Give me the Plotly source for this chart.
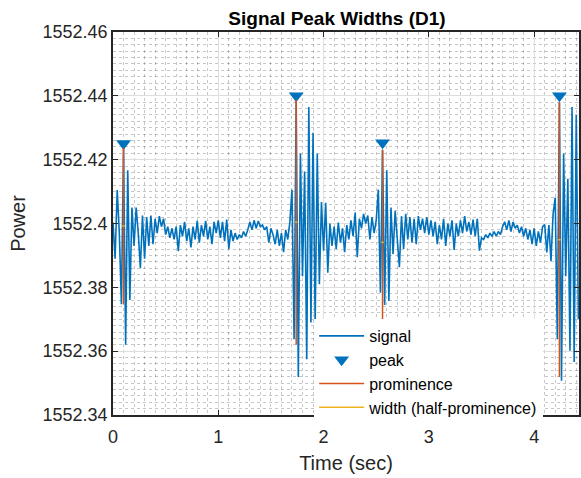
import plotly.graph_objects as go

# ---- data ----
sample_interval = 0.02  # seconds between samples
signal = [
    1552.4003, 1552.3890, 1552.4105, 1552.3970, 1552.3747, 1552.4237, 1552.3620, 1552.4167, 1552.3760, 1552.4050,
    1552.3930, 1552.4050, 1552.3970, 1552.3860, 1552.4025, 1552.3890, 1552.4020, 1552.3930, 1552.4025, 1552.3935,
    1552.4015, 1552.3970, 1552.4023, 1552.3990, 1552.4015, 1552.3965, 1552.3990, 1552.3955, 1552.3985, 1552.3950,
    1552.3990, 1552.3913, 1552.3995, 1552.3960, 1552.4005, 1552.3945, 1552.3985, 1552.3925, 1552.3990, 1552.3950,
    1552.4008, 1552.3940, 1552.3995, 1552.3960, 1552.4008, 1552.3950, 1552.3990, 1552.3935, 1552.4005, 1552.3970,
    1552.4010, 1552.3955, 1552.4005, 1552.3945, 1552.4012, 1552.3920, 1552.3980, 1552.3945, 1552.3970, 1552.3950,
    1552.3965, 1552.3955, 1552.3975, 1552.3960, 1552.3980, 1552.4005, 1552.3980, 1552.4010, 1552.3985, 1552.4008,
    1552.3990, 1552.3995, 1552.3980, 1552.3990, 1552.3940, 1552.3985, 1552.3965, 1552.3935, 1552.3980, 1552.3930,
    1552.3970, 1552.3910, 1552.3980, 1552.3950, 1552.4005, 1552.4106, 1552.3637, 1552.4388, 1552.3519, 1552.4219,
    1552.3835, 1552.4163, 1552.3575, 1552.4365, 1552.3690, 1552.4284, 1552.3690, 1552.4219, 1552.3810, 1552.4067,
    1552.3915, 1552.4065, 1552.3846, 1552.4000, 1552.3930, 1552.3990, 1552.3920, 1552.4003, 1552.3940, 1552.3985,
    1552.3910, 1552.3995, 1552.3950, 1552.4010, 1552.3960, 1552.4034, 1552.3894, 1552.4015, 1552.3985, 1552.4030,
    1552.4000, 1552.4025, 1552.3950, 1552.4020, 1552.3970, 1552.4010, 1552.4106, 1552.3783, 1552.4231, 1552.3745,
    1552.4167, 1552.3757, 1552.4050, 1552.3904, 1552.4040, 1552.3946, 1552.3863, 1552.4023, 1552.3920, 1552.4030,
    1552.3950, 1552.4020, 1552.3940, 1552.4015, 1552.3935, 1552.4023, 1552.3980, 1552.4015, 1552.3970, 1552.4020,
    1552.3965, 1552.4010, 1552.3960, 1552.4005, 1552.3935, 1552.3995, 1552.3950, 1552.4015, 1552.3930, 1552.4000,
    1552.3960, 1552.4010, 1552.3917, 1552.4000, 1552.3960, 1552.4010, 1552.3970, 1552.4023, 1552.3975, 1552.4005,
    1552.3965, 1552.4012, 1552.3960, 1552.4015, 1552.3915, 1552.3955, 1552.3950, 1552.3965, 1552.3955, 1552.3970,
    1552.3960, 1552.3975, 1552.3960, 1552.3975, 1552.3965, 1552.3990, 1552.4005, 1552.3980, 1552.4010, 1552.3975,
    1552.4005, 1552.3985, 1552.3995, 1552.3970, 1552.3990, 1552.3960, 1552.3985, 1552.3950, 1552.3980, 1552.3935,
    1552.3985, 1552.3930, 1552.3975, 1552.3940, 1552.3990, 1552.3997, 1552.3909, 1552.3995, 1552.3882, 1552.4030,
    1552.4081, 1552.3637, 1552.4379, 1552.3507, 1552.4219, 1552.3835, 1552.4140, 1552.3601, 1552.4365, 1552.3566,
    1552.4340, 1552.3700,
]
time = [i * sample_interval for i in range(len(signal))]

peak_time = [0.10, 1.74, 2.56, 4.24]
peak_value = [1552.4237, 1552.4388, 1552.4231, 1552.4379]
peak_marker_y = [1552.4251, 1552.4400, 1552.4253, 1552.4400]
prominence_base = [1552.3747, 1552.3620, 1552.3650, 1552.3519]
width_height = [1552.3992, 1552.4004, 1552.3941, 1552.3949]
width_left = [0.088, 1.728, 2.548, 4.228]
width_right = [0.112, 1.752, 2.572, 4.252]

y_ticks = [1552.34, 1552.36, 1552.38, 1552.40, 1552.42, 1552.44, 1552.46]
y_tick_labels = ["1552.34", "1552.36", "1552.38", "1552.4", "1552.42", "1552.44", "1552.46"]
x_ticks = [0, 1, 2, 3, 4]
x_tick_labels = ["0", "1", "2", "3", "4"]

BLUE = "#0072BD"
ORANGE = "#D95319"
YELLOW = "#EDB120"
AX = "#262626"
FONT = "Liberation Sans, Arial, sans-serif"

prom_x, prom_y = [], []
for t, top, base in zip(peak_time, peak_value, prominence_base):
    prom_x += [t, t, None]
    prom_y += [top, base, None]

wid_x, wid_y = [], []
for l, r, h in zip(width_left, width_right, width_height):
    wid_x += [l, r, None]
    wid_y += [h, h, None]

PLOT_W = 581 - 113

fig = go.Figure()
fig.add_trace(go.Scatter(x=time, y=signal, mode="lines", name="signal",
                         line=dict(color=BLUE, width=1.6)))
fig.add_trace(go.Scatter(x=peak_time, y=peak_marker_y, mode="markers", name="peak",
                         marker=dict(symbol="triangle-down", size=13, color=BLUE,
                                     line=dict(width=0))))
fig.add_trace(go.Scatter(x=prom_x, y=prom_y, mode="lines", name="prominence",
                         line=dict(color=ORANGE, width=1.5), connectgaps=False))
fig.add_trace(go.Scatter(x=wid_x, y=wid_y, mode="lines", name="width (half-prominence)",
                         line=dict(color=YELLOW, width=1.5), connectgaps=False))

fig.update_layout(
    width=581, height=478,
    margin=dict(l=113, r=0, t=32, b=63),
    paper_bgcolor="white", plot_bgcolor="white",
    font=dict(family=FONT, color=AX, size=18),
    title=dict(text="<b>Signal Peak Widths (D1)</b>", x=337 / 581, xanchor="center",
               y=1 - 18 / 478, yanchor="middle",
               font=dict(family=FONT, size=19, color="#000000")),
    showlegend=True,
    legend=dict(x=(315 - 113) / PLOT_W, y=(415 - 319) / 383, xanchor="left", yanchor="top",
                bgcolor="white", borderwidth=0, font=dict(family=FONT, size=16, color="#000000"),
                itemwidth=45, tracegroupgap=0),
)
fig.update_xaxes(
    range=[0, 4.426], tickvals=x_ticks, ticktext=x_tick_labels,
    showline=True, linecolor=AX, linewidth=1.5, mirror="ticks",
    ticks="inside", ticklen=5, tickcolor=AX, tickwidth=1,
    showgrid=True, gridcolor="#dedede", gridwidth=1,
    minor=dict(dtick=0.1, showgrid=True, gridcolor="rgba(0,0,0,0.22)", griddash="dot", gridwidth=1),
    zeroline=False, ticklabelstandoff=5,
    title=dict(text="Time (sec)", font=dict(size=20, color=AX), standoff=10),
    tickfont=dict(size=18, color=AX),
)
fig.update_yaxes(
    range=[1552.34, 1552.46], tickvals=y_ticks, ticktext=y_tick_labels,
    showline=True, linecolor=AX, linewidth=1.5, mirror="ticks",
    ticks="inside", ticklen=5, tickcolor=AX, tickwidth=1,
    showgrid=True, gridcolor="#dedede", gridwidth=1,
    minor=dict(dtick=0.002, tick0=1552.34, showgrid=True, gridcolor="rgba(0,0,0,0.22)", griddash="dot", gridwidth=1),
    zeroline=False,
    title=dict(text="Power", font=dict(size=20, color=AX), standoff=12),
    tickfont=dict(size=18, color=AX),
)

fig.write_html("out.html")
